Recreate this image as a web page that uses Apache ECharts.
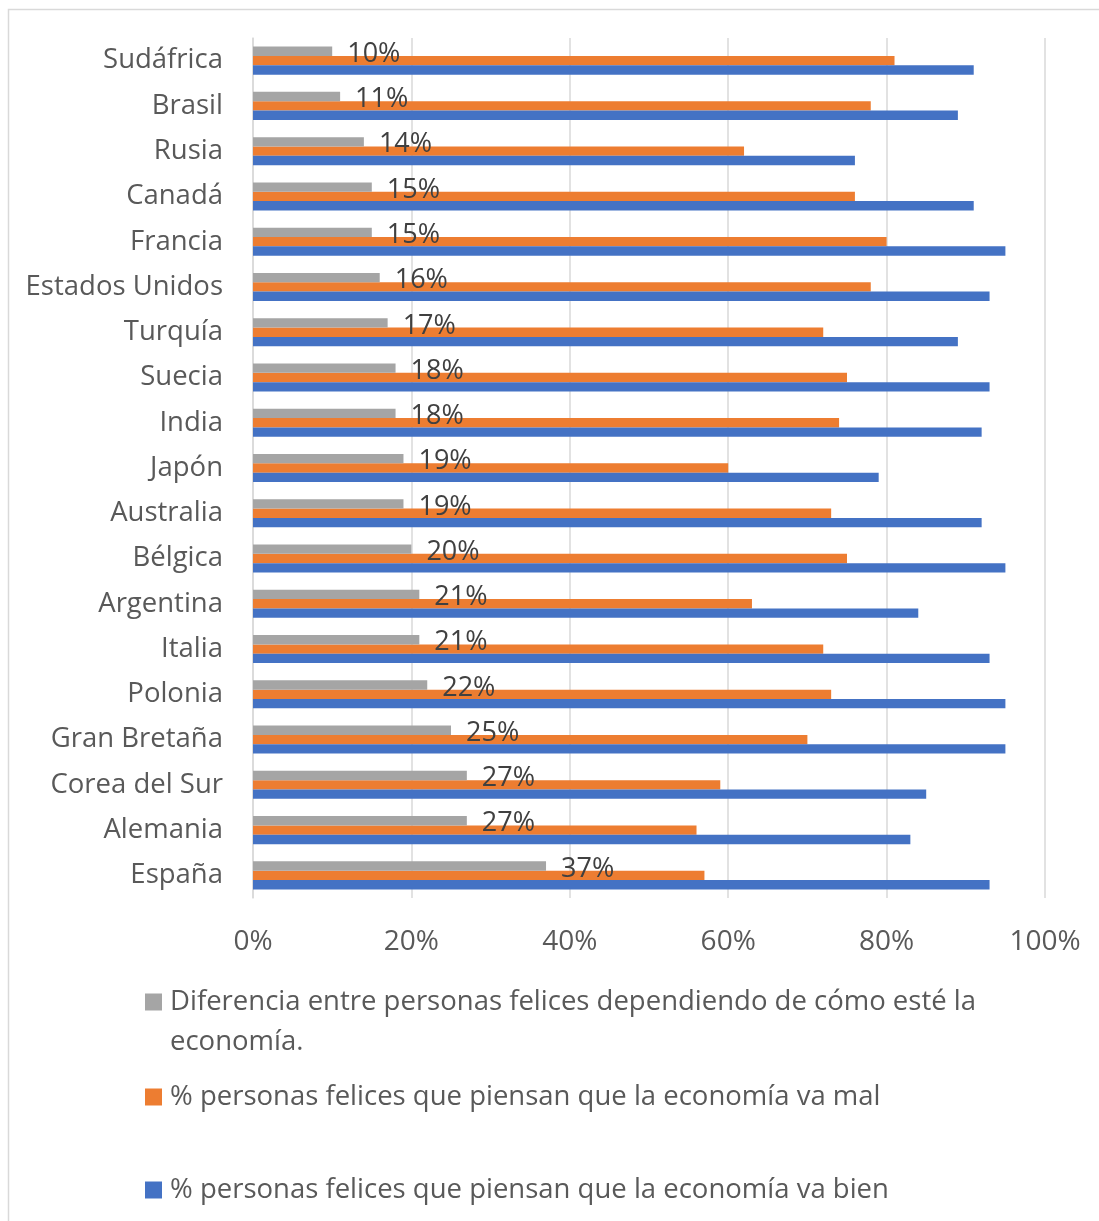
<!DOCTYPE html>
<html>
<head>
<meta charset="utf-8">
<script src="https://cdn.jsdelivr.net/npm/echarts@6/dist/echarts.min.js"></script>
<style>
  html, body { margin: 0; padding: 0; background: #fff; }
  #chart { width: 1099px; height: 1221px; }
</style>
</head>
<body>
<div id="chart"></div>
<script>
// Países, de arriba abajo
const countries = ['Sudáfrica', 'Brasil', 'Rusia', 'Canadá', 'Francia', 'Estados Unidos', 'Turquía', 'Suecia', 'India', 'Japón', 'Australia', 'Bélgica', 'Argentina', 'Italia', 'Polonia', 'Gran Bretaña', 'Corea del Sur', 'Alemania', 'España'];
// Diferencia (puntos porcentuales)
const diferencia = [10, 11, 14, 15, 15, 16, 17, 18, 18, 19, 19, 20, 21, 21, 22, 25, 27, 27, 37];
// % felices cuando piensan que la economía va mal
const vaMal = [81, 78, 62, 76, 80, 78, 72, 75, 74, 60, 73, 75, 63, 72, 73, 70, 59, 56, 57];
// % felices cuando piensan que la economía va bien
const vaBien = [91, 89, 76, 91, 95, 93, 89, 93, 92, 79, 92, 95, 84, 93, 95, 95, 85, 83, 93];
// Marcas del eje de valores
const xTicks = [0, 20, 40, 60, 80, 100];

const seriesNames = [
  'Diferencia entre personas felices dependiendo de cómo esté la economía.',
  '% personas felices que piensan que la economía va mal',
  '% personas felices que piensan que la economía va bien'
];
const colors = ['#a5a5a5', '#ed7d31', '#4472c4'];

const FONT = '"Open Sans", sans-serif';
const TEXT = '#595959';

const chart = echarts.init(document.getElementById('chart'), null, { renderer: 'canvas' });

function legendFor(i, top, formatter) {
  const lg = {
    data: [seriesNames[i]],
    orient: 'vertical',
    left: 145,
    top: top,
    padding: 0,
    itemWidth: 17,
    itemHeight: 17,
    icon: 'rect',
    selectedMode: false,
    textStyle: {
      color: TEXT,
      fontFamily: FONT,
      fontSize: 27.5,
      lineHeight: 40,
      padding: [0, 0, 0, 3]
    }
  };
  if (formatter) lg.formatter = formatter;
  return lg;
}

chart.setOption({
  animation: false,
  color: colors,
  graphic: [{
    type: 'rect',
    shape: { x: 8.5, y: 9.5, width: 1200, height: 1300 },
    style: { fill: 'none', stroke: '#d9d9d9', lineWidth: 1.5 },
    silent: true
  }],
  grid: { left: 253, right: 54, top: 38, bottom: 323 },
  legend: [
    // La primera entrada ocupa dos líneas; la línea vacía inicial deja el
    // cuadro de color alineado con la primera línea del texto.
    legendFor(0, 942, function (name) {
      return ' \n' + name.replace(' la economía.', ' la\neconomía.');
    }),
    legendFor(1, 1077),
    legendFor(2, 1170)
  ],
  xAxis: {
    type: 'value',
    min: xTicks[0],
    max: xTicks[xTicks.length - 1],
    interval: xTicks[1] - xTicks[0],
    axisLine: { show: false },
    axisTick: { show: false },
    splitLine: { show: true, lineStyle: { color: '#d9d9d9', width: 1.5 } },
    axisLabel: {
      formatter: '{value}%',
      color: TEXT,
      fontFamily: FONT,
      fontSize: 28,
      margin: 30
    }
  },
  yAxis: {
    type: 'category',
    data: countries,
    inverse: true,
    axisLine: { show: true, lineStyle: { color: '#d9d9d9', width: 1.5 } },
    axisTick: { show: false },
    splitLine: { show: false },
    axisLabel: {
      color: TEXT,
      fontFamily: FONT,
      fontSize: 27.5,
      margin: 30,
      padding: [8, 0, 0, 0]
    }
  },
  series: [
    {
      name: seriesNames[0],
      type: 'bar',
      data: diferencia,
      barGap: '0%',
      barCategoryGap: '38%',
      label: {
        show: true,
        position: 'right',
        distance: 15,
        offset: [0, 3],
        formatter: '{c}%',
        color: '#404040',
        fontFamily: FONT,
        fontSize: 27
      },
      z: 3
    },
    {
      name: seriesNames[1],
      type: 'bar',
      data: vaMal,
      barGap: '0%',
      barCategoryGap: '38%',
      z: 2
    },
    {
      name: seriesNames[2],
      type: 'bar',
      data: vaBien,
      barGap: '0%',
      barCategoryGap: '38%',
      z: 2
    }
  ]
});
</script>
</body>
</html>
